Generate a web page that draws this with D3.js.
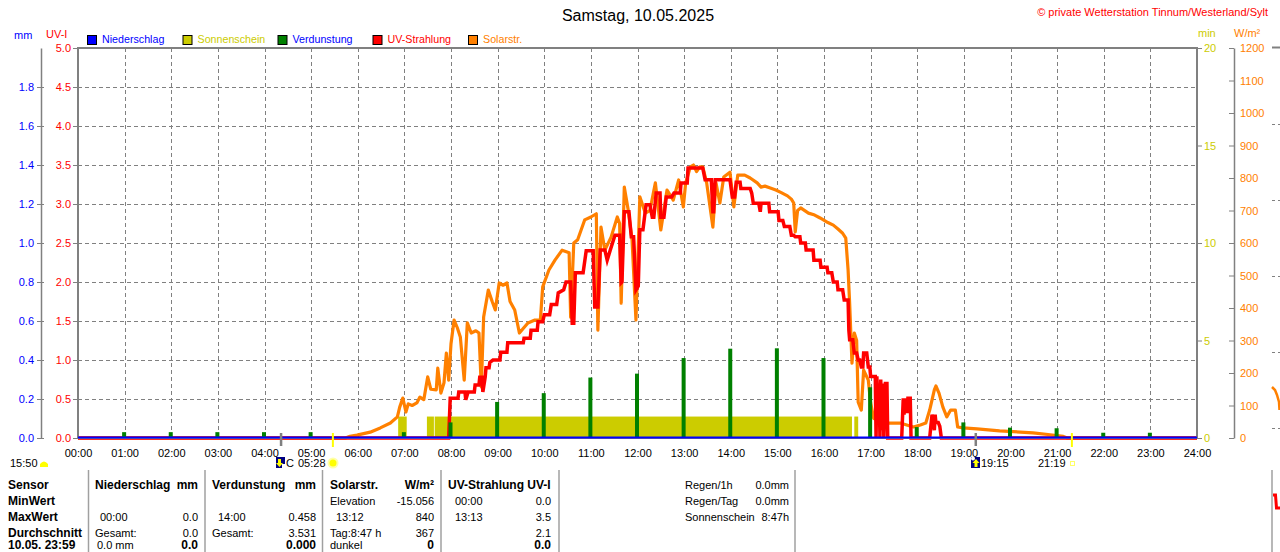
<!DOCTYPE html>
<html><head><meta charset="utf-8">
<script src="https://cdn.jsdelivr.net/npm/d3@7"></script>
<style>body{margin:0;background:#fff;overflow:hidden} svg{display:block}</style>
</head><body><svg id="c" width="1280" height="552"></svg>
<script>
// ---------- DATA ----------
const hourLabels = ["00:00","01:00","02:00","03:00","04:00","05:00","06:00","07:00","08:00","09:00","10:00","11:00","12:00","13:00","14:00","15:00","16:00","17:00","18:00","19:00","20:00","21:00","22:00","23:00","24:00"];
const uvTicks = [0,0.5,1,1.5,2,2.5,3,3.5,4,4.5,5];
const mmTicks = [0,0.2,0.4,0.6,0.8,1.0,1.2,1.4,1.6,1.8];
const minTicks = [0,5,10,15,20];
const wTicks = [0,100,200,300,400,500,600,700,800,900,1000,1100,1200];

// Solar radiation (minutes of day, W/m²)
const solarMin = [0,344,350,359,376,389,402,411,414,418,422,425,430,436,440,445,450,454,461,463,467,471,474,477,480,484,488,492,497,501,506,512,516,519,522,528,533,537,542,547,552,556,562,568,574,579,588,595,598,606,614,623,632,634,638,643,652,660,667,669,673,678,686,694,697,699,703,708,713,718,723,730,736,743,750,758,766,773,779,782,788,792,796,800,804,809,817,821,826,831,839,844,849,858,865,874,879,884,890,898,905,913,918,921,923,926,930,940,948,955,965,972,978,984,988,991,993,996,999,1002,1004,1008,1011,1017,1020,1024,1032,1041,1058,1075,1084,1091,1096,1102,1104,1108,1113,1118,1123,1129,1132,1139,1157,1186,1229,1251,1268,1273,1440];
const solarW   = [0,0,5,9,18,31,46,65,95,123,80,105,100,108,126,118,188,150,148,215,138,170,261,178,290,363,340,311,178,354,323,330,323,157,372,455,420,394,477,470,477,420,394,323,340,354,363,363,465,517,548,578,570,372,600,610,671,680,690,332,649,578,618,680,660,415,772,702,609,363,742,692,700,785,640,763,732,794,711,785,834,840,820,834,834,785,649,785,723,803,818,711,809,809,800,785,772,775,770,763,755,745,735,723,634,700,708,692,686,677,663,655,643,630,615,517,415,230,323,300,110,86,209,178,108,60,55,46,46,34,40,46,86,148,160,138,95,65,86,86,34,31,28,22,16,10,5,0,0];

// UV index (minutes of day, UV-I)
const uvMin = [0,477,479,489,490,498,499,502,510,511,516,517,520,521,524,525,529,530,534,543,544,552,553,573,574,582,583,591,592,598,600,607,609,616,618,625,628,634,636,638,640,650,654,663,665,669,672,678,681,685,691,697,699,700,703,709,712,715,718,721,723,727,731,736,739,741,744,749,750,754,757,764,767,775,776,784,785,804,807,815,817,818,820,839,842,845,847,852,853,865,867,869,876,878,879,889,890,901,902,907,909,916,918,921,923,929,930,936,937,946,947,955,956,964,965,970,972,977,978,984,986,991,992,993,997,999,1002,1004,1006,1008,1010,1011,1015,1017,1019,1020,1026,1027,1028,1030,1031,1032,1033,1035,1036,1037,1039,1041,1042,1060,1062,1063,1064,1067,1068,1071,1072,1096,1099,1102,1103,1104,1107,1109,1111,1440];
const uvVal = [0,0,0.51,0.51,0.59,0.59,0.49,0.59,0.59,0.68,0.68,0.78,0.78,0.59,0.78,0.9,0.9,0.97,1.0,1.0,1.1,1.1,1.22,1.22,1.28,1.28,1.38,1.38,1.49,1.49,1.58,1.58,1.71,1.71,1.86,1.9,2.0,2.0,1.47,1.47,2.12,2.12,2.4,2.4,1.68,1.68,2.41,2.41,2.28,2.41,2.6,2.6,1.99,2.0,2.9,2.9,2.58,2.58,1.9,1.95,2.67,2.67,2.99,2.99,2.83,2.83,3.14,3.14,2.83,2.83,3.09,3.09,3.14,3.14,3.27,3.27,3.46,3.46,3.31,3.31,2.9,2.9,3.31,3.31,3.09,3.09,3.28,3.28,3.2,3.2,3.14,3.01,3.01,2.9,3.01,3.01,2.9,2.9,2.79,2.79,2.71,2.71,2.6,2.6,2.58,2.58,2.5,2.5,2.41,2.41,2.28,2.28,2.19,2.19,2.12,2.12,2.0,2.0,1.9,1.9,1.77,1.77,1.38,1.26,1.26,1.09,1.09,1.0,1.0,0.91,0.91,1.09,1.09,0.91,0.91,0.79,0.79,0,0.79,0.3,0.7,0,0.75,0.1,0.7,0,0.7,0.7,0,0,0.51,0.3,0.51,0.32,0.51,0.51,0,0,0.3,0.1,0.3,0.2,0.2,0.15,0,0];

// Sunshine intervals (minutes of day) and minutes value
const sunStart = [412,449,459,999];
const sunEnd   = [423,458,996,1004];
const sunValue = [1.1,1.1,1.1,1.1];

// Evaporation per hour (hour, mm)
const evapHour = [1,2,3,4,5,7,8,9,10,11,12,13,14,15,16,17,18,19,20,21,22,23];
const evapMM   = [0.03,0.03,0.03,0.03,0.03,0.03,0.08,0.185,0.23,0.31,0.33,0.41,0.458,0.46,0.41,0.26,0.056,0.08,0.053,0.05,0.027,0.027];

// Precipitation (minutes, mm)
const rainMin = [0,1440];
const rainMM  = [0,0];

// Moon / sun markers
const moonMarks = ["04:21","19:15"];
const sunMarks  = ["05:28","21:19"];

// Legend
const legendNames  = ["Niederschlag","Sonnenschein","Verdunstung","UV-Strahlung","Solarstr."];
const legendFill   = ["#0000ff","#cccc00","#008000","#ff0000","#ff8000"];
const legendText   = ["#0000ff","#cccc00","#0000ff","#ff0000","#ff8000"];

// ---------- LAYOUT ----------
const L = 78, R = 1197, T = 48, B = 438;
const F = '"Liberation Sans", Arial, sans-serif';
const toMin = s => { const [h,m] = s.split(":").map(Number); return h*60+m; };

const svg = d3.select("#c").attr("font-family", F);
svg.append("rect").attr("width",1280).attr("height",552).attr("fill","#fff");

const x = d3.scaleLinear([0,1440],[L,R]);
const yUV = d3.scaleLinear([0,5],[B,T]);
const yMM = d3.scaleLinear([0,2],[B,T]);
const ySun = d3.scaleLinear([0,20],[B,T]);
const yW = d3.scaleLinear([0,1200],[B,T]);

// title
svg.append("text").attr("x",638).attr("y",21).attr("text-anchor","middle").attr("font-size",16).attr("fill","#000").text("Samstag, 10.05.2025");
svg.append("text").attr("x",1268).attr("y",16).attr("text-anchor","end").attr("font-size",11).attr("fill","#ff0000").text("© private Wetterstation Tinnum/Westerland/Sylt");

// axis titles
svg.append("text").attr("x",14).attr("y",39).attr("font-size",11).attr("fill","#0000ff").text("mm");
svg.append("text").attr("x",46).attr("y",38).attr("font-size",11).attr("fill","#ff0000").text("UV-I");
svg.append("text").attr("x",1198).attr("y",37).attr("font-size",11).attr("fill","#cccc00").text("min");
svg.append("text").attr("x",1234).attr("y",37).attr("font-size",11).attr("fill","#ff8000").text("W/m²");

// legend
const legX = [87,182.5,277.5,372.5,468];
legendNames.forEach((n,i)=>{
  svg.append("rect").attr("x",legX[i]+0.5).attr("y",35.5).attr("width",9).attr("height",9)
    .attr("fill",legendFill[i]).attr("stroke","#000").attr("stroke-width",1);
  svg.append("text").attr("x",legX[i]+15).attr("y",43).attr("font-size",10.7).attr("fill",legendText[i]).text(n);
});

// grid
const grid = svg.append("g").attr("stroke","#808080").attr("stroke-width",1).attr("stroke-dasharray","4,3");
uvTicks.filter(v=>v>0 && v<5).forEach(v=>{
  grid.append("line").attr("x1",L).attr("x2",R).attr("y1",Math.round(yUV(v))+0.5).attr("y2",Math.round(yUV(v))+0.5);
});
d3.range(1,24).forEach(h=>{
  grid.append("line").attr("x1",Math.round(x(h*60))+0.5).attr("x2",Math.round(x(h*60))+0.5).attr("y1",T).attr("y2",B);
});

function styleAxis(g, color){
  g.attr("font-family",F).attr("font-size",11);
  g.selectAll(".tick line").attr("stroke","#808080");
  g.selectAll(".tick text").attr("fill",color);
}

// UV axis
const gUV = svg.append("g").attr("transform",`translate(${L},0)`)
  .call(d3.axisLeft(yUV).tickValues(uvTicks).tickFormat(d3.format(".1f")).tickSize(5).tickPadding(2));
gUV.select(".domain").remove(); styleAxis(gUV,"#ff0000");

// mm axis
const gMM = svg.append("g").attr("transform","translate(41,0)")
  .call(d3.axisLeft(yMM).tickValues(mmTicks).tickFormat(d3.format(".1f")).tickSize(4).tickSizeOuter(0).tickPadding(3));
gMM.select(".domain").attr("stroke","#808080").attr("stroke-width",1.5);
styleAxis(gMM,"#0000ff");
const gMM2 = svg.append("g").attr("transform","translate(41,0)")
  .call(d3.axisRight(yMM).tickValues(mmTicks).tickFormat("").tickSize(3).tickSizeOuter(0));
gMM2.select(".domain").remove(); gMM2.selectAll(".tick line").attr("stroke","#808080");

// min axis
const gMin = svg.append("g").attr("transform",`translate(${R},0)`)
  .call(d3.axisRight(ySun).tickValues(minTicks).tickFormat(d3.format("d")).tickSize(5).tickPadding(2));
gMin.select(".domain").remove(); styleAxis(gMin,"#cccc00");

// W axis
const gW = svg.append("g").attr("transform","translate(1234,0)")
  .call(d3.axisRight(yW).tickValues(wTicks).tickFormat(d3.format("d")).tickSize(0).tickSizeOuter(0).tickPadding(6));
gW.select(".domain").attr("stroke","#808080").attr("stroke-width",1.5);
styleAxis(gW,"#ff8000");
const gW2 = svg.append("g").attr("transform","translate(1234,0)")
  .call(d3.axisLeft(yW).tickValues(wTicks).tickFormat("").tickSize(5).tickSizeOuter(0));
gW2.select(".domain").remove(); gW2.selectAll(".tick line").attr("stroke","#808080");

// x axis labels
const gX = svg.append("g").attr("transform",`translate(0,${B})`)
  .call(d3.axisBottom(x).tickValues(d3.range(0,25).map(h=>h*60)).tickFormat((d,i)=>hourLabels[i]).tickSize(0).tickPadding(11));
gX.select(".domain").remove(); styleAxis(gX,"#000");

// sunshine bars
svg.append("g").selectAll("rect").data(d3.range(sunStart.length)).join("rect")
  .attr("x",i=>x(sunStart[i])).attr("width",i=>x(sunEnd[i])-x(sunStart[i]))
  .attr("y",i=>ySun(sunValue[i])).attr("height",i=>ySun(0)-ySun(sunValue[i]))
  .attr("fill","#cccc00");

// solar line
svg.append("path").datum(d3.zip(solarMin,solarW))
  .attr("d",d3.line().x(d=>x(d[0])).y(d=>yW(d[1])))
  .attr("fill","none").attr("stroke","#ff8000").attr("stroke-width",3.2).attr("stroke-linejoin","round");

// UV line
svg.append("path").datum(d3.zip(uvMin,uvVal))
  .attr("d",d3.line().x(d=>x(d[0])).y(d=>yUV(d[1])))
  .attr("fill","none").attr("stroke","#ff0000").attr("stroke-width",3.5).attr("stroke-linejoin","miter");

// evaporation spikes
svg.append("g").selectAll("rect").data(d3.range(evapHour.length)).join("rect")
  .attr("x",i=>x(evapHour[i]*60)-2.5).attr("width",4)
  .attr("y",i=>yMM(evapMM[i])).attr("height",i=>yMM(0)-yMM(evapMM[i]))
  .attr("fill","#008000");

// frame
svg.append("rect").attr("x",L).attr("y",T).attr("width",R-L).attr("height",B-T)
  .attr("fill","none").attr("stroke","#808080").attr("stroke-width",2);

// rain line
svg.append("path").datum(d3.zip(rainMin,rainMM))
  .attr("d",d3.line().x(d=>x(d[0])).y(d=>yMM(d[1])-0.5))
  .attr("fill","none").attr("stroke","#0000ff").attr("stroke-width",2);

// markers
moonMarks.forEach(t=>svg.append("rect").attr("x",x(toMin(t))-1).attr("y",433).attr("width",2.5).attr("height",13).attr("fill","#808080"));
sunMarks.forEach(t=>svg.append("rect").attr("x",x(toMin(t))-1).attr("y",433).attr("width",2).attr("height",14).attr("fill","#ffff00"));

// bottom marker row
const bt = (xx,s)=>svg.append("text").attr("x",xx).attr("y",467).attr("font-size",11).attr("fill","#000").text(s);
bt(10,"15:50");
svg.append("path").attr("d","M40,467 L40,464 Q44,459 48,464 L48,467 Z").attr("fill","#ffff00");
svg.append("rect").attr("x",276).attr("y",457).attr("width",9).attr("height",11).attr("fill","#000080");
svg.append("path").attr("d","M278,459 L281,459 L281,463 L283,463 L279.5,467 L276,463 L278,463 Z").attr("fill","#ffff00");
svg.append("rect").attr("x",282).attr("y",464).attr("width",3).attr("height",4).attr("fill","#ffffff");
bt(286,"C"); bt(298,"05:28");
svg.append("circle").attr("cx",333).attr("cy",463).attr("r",5.5).attr("fill","#ffffaa");
svg.append("circle").attr("cx",333).attr("cy",463).attr("r",3.5).attr("fill","#ffff00");
svg.append("rect").attr("x",971).attr("y",457).attr("width",9).attr("height",11).attr("fill","#000080");
svg.append("circle").attr("cx",973).attr("cy",458.5).attr("r",2).attr("fill","#ffffff");
svg.append("path").attr("d","M976,459 L979.5,463 L977.5,463 L977.5,467 L974.5,467 L974.5,463 L972.5,463 Z").attr("fill","#ffff00");
bt(981,"19:15"); bt(1038,"21:19");
svg.append("rect").attr("x",1070.5).attr("y",461.5).attr("width",4).attr("height",4).attr("fill","none").attr("stroke","#ffff66");

// table separators
[88.5,205,322.5,441,559,795,1272].forEach(xx=>svg.append("line").attr("x1",xx).attr("x2",xx).attr("y1",470).attr("y2",552).attr("stroke","#a0a0a0").attr("stroke-width",1.5));

const rowsY = [489,505,521,537,548.5];
const tt = (xx,row,s,opt={})=>svg.append("text").attr("x",xx).attr("y",rowsY[row])
  .attr("font-size",opt.b?12:11).attr("font-weight",opt.b?"bold":"normal")
  .attr("text-anchor",opt.e?"end":"start").attr("fill","#000").text(s);
["Sensor","MinWert","MaxWert","Durchschnitt","10.05. 23:59"].forEach((s,i)=>tt(8,i,s,{b:1}));
tt(95,0,"Niederschlag",{b:1}); tt(198,0,"mm",{b:1,e:1});
tt(100,2,"00:00"); tt(198,2,"0.0",{e:1});
tt(95,3,"Gesamt:"); tt(198,3,"0.0",{e:1});
tt(97,4,"0.0 mm"); tt(198,4,"0.0",{b:1,e:1});
tt(212,0,"Verdunstung",{b:1}); tt(316,0,"mm",{b:1,e:1});
tt(218,2,"14:00"); tt(316,2,"0.458",{e:1});
tt(212,3,"Gesamt:"); tt(316,3,"3.531",{e:1});
tt(316,4,"0.000",{b:1,e:1});
tt(330,0,"Solarstr.",{b:1}); tt(434,0,"W/m²",{b:1,e:1});
tt(330,1,"Elevation"); tt(434,1,"-15.056",{e:1});
tt(336,2,"13:12"); tt(434,2,"840",{e:1});
tt(330,3,"Tag:8:47 h"); tt(434,3,"367",{e:1});
tt(330,4,"dunkel"); tt(434,4,"0",{b:1,e:1});
tt(448,0,"UV-Strahlung UV-I",{b:1});
tt(455,1,"00:00"); tt(551,1,"0.0",{e:1});
tt(455,2,"13:13"); tt(551,2,"3.5",{e:1});
tt(551,3,"2.1",{e:1});
tt(551,4,"0.0",{b:1,e:1});
tt(685,0,"Regen/1h"); tt(789,0,"0.0mm",{e:1});
tt(685,1,"Regen/Tag"); tt(789,1,"0.0mm",{e:1});
tt(685,2,"Sonnenschein"); tt(789,2,"8:47h",{e:1});

// partial neighbour chart at the right edge
svg.append("line").attr("x1",1272).attr("x2",1280).attr("y1",47.5).attr("y2",47.5).attr("stroke","#808080").attr("stroke-width",2);
[124,200,276,352,428].forEach(yy=>svg.append("line").attr("x1",1272).attr("x2",1280).attr("y1",yy+0.5).attr("y2",yy+0.5).attr("stroke","#808080").attr("stroke-dasharray","3,3"));
svg.append("path").attr("d","M1272,387 L1275,390 L1277,395 L1279,402 L1279.5,410").attr("fill","none").attr("stroke","#ff8000").attr("stroke-width",2.5);
svg.append("path").attr("d","M1273,495 L1275.5,495 L1276.5,508 L1280,508").attr("fill","none").attr("stroke","#ff0000").attr("stroke-width",3);
</script></body></html>
